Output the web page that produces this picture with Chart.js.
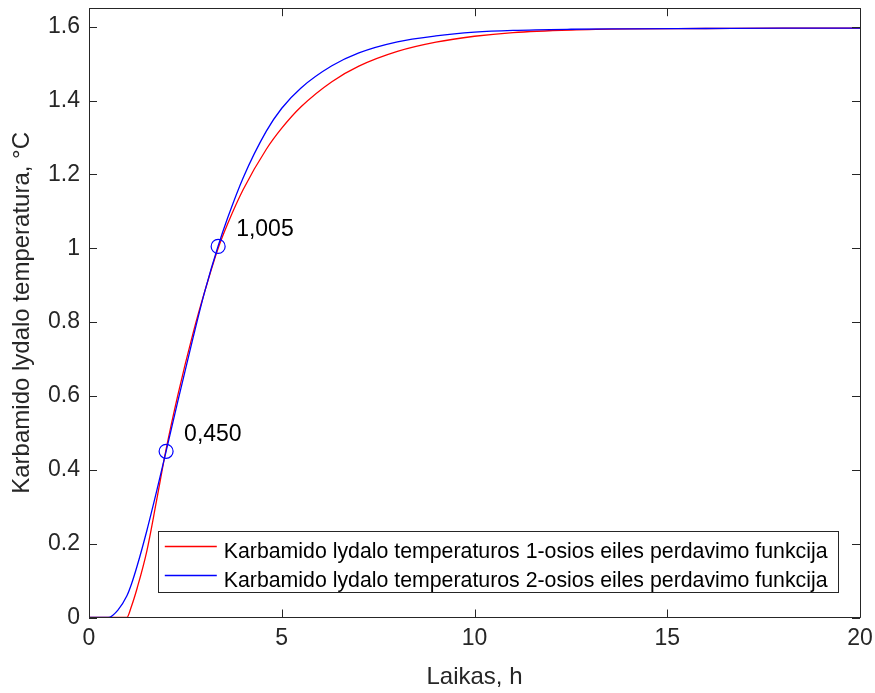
<!DOCTYPE html>
<html>
<head>
<meta charset="utf-8">
<script src="https://cdn.jsdelivr.net/npm/chart.js@4.4.1/dist/chart.umd.min.js"></script>
<style>
  html, body { margin: 0; padding: 0; background: #fff; }
  #wrap { width: 875px; height: 693px; }
</style>
</head>
<body>
<div id="wrap"><canvas id="chart" width="875" height="693"></canvas></div>
<script>
// time, h
const timeH = [0, 0.5, 0.75, 0.98, 1.1, 1.25, 1.5, 1.75, 2.0, 2.3, 2.7, 3.0, 3.35, 3.6, 4.0, 4.6, 5.0, 5.5, 6.3, 7.0, 8.0, 9.0, 10, 11, 12.5, 14, 16, 18, 20];
// 1st order transfer function response
const firstOrder = [0, 0, 0, 0, 0.03, 0.08, 0.18, 0.315, 0.455, 0.600, 0.770, 0.882, 1.0, 1.067, 1.159, 1.268, 1.325, 1.383, 1.451, 1.493, 1.533, 1.558, 1.574, 1.584, 1.591, 1.594, 1.595, 1.596, 1.596];
// 2nd order transfer function response
const secondOrder = [0, 0, 0.02, 0.058, 0.09, 0.14, 0.235, 0.34, 0.45, 0.584, 0.758, 0.882, 1.006, 1.083, 1.191, 1.317, 1.379, 1.434, 1.494, 1.529, 1.559, 1.575, 1.585, 1.590, 1.593, 1.594, 1.595, 1.596, 1.596];

const markerTime = [2.0, 3.35];
const markerValue = [0.45, 1.005];
const markerText = ['0,450', '1,005'];

const xTicks = [0, 5, 10, 15, 20];
const yTicks = [0, 0.2, 0.4, 0.6, 0.8, 1.0, 1.2, 1.4, 1.6];
const yTickLabels = ['0', '0.2', '0.4', '0.6', '0.8', '1', '1.2', '1.4', '1.6'];

const legendLabels = [
    'Karbamido lydalo temperaturos 1-osios eiles perdavimo funkcija',
    'Karbamido lydalo temperaturos 2-osios eiles perdavimo funkcija'
];

const AXIS = '#262626';
const FONT = '"Liberation Sans", Arial, Helvetica, sans-serif';

const toPoints = (xs, ys) => xs.map((x, i) => ({ x, y: ys[i] }));

// MATLAB-like box: border, inward ticks on all sides, text labels, legend
const matlabBox = {
    id: 'matlabBox',
    afterDraw(chart) {
        const { ctx, chartArea: a, scales: { x, y } } = chart;
        ctx.save();
        ctx.strokeStyle = AXIS;
        ctx.lineWidth = 1;
        ctx.beginPath();
        ctx.rect(Math.round(a.left) + 0.5, Math.round(a.top) + 0.5, Math.round(a.right - a.left), Math.round(a.bottom - a.top));
        x.ticks.forEach(t => {
            const px = Math.round(x.getPixelForValue(t.value)) + 0.5;
            ctx.moveTo(px, a.bottom); ctx.lineTo(px, a.bottom - 8);
            ctx.moveTo(px, a.top); ctx.lineTo(px, a.top + 8);
        });
        y.ticks.forEach(t => {
            const py = Math.round(y.getPixelForValue(t.value)) + 0.5;
            ctx.moveTo(a.left, py); ctx.lineTo(a.left + 8, py);
            ctx.moveTo(a.right, py); ctx.lineTo(a.right - 8, py);
        });
        ctx.stroke();

        // point labels
        ctx.fillStyle = '#000';
        ctx.font = '23px ' + FONT;
        ctx.textBaseline = 'middle';
        ctx.textAlign = 'left';
        markerText.forEach((s, i) => {
            const px = x.getPixelForValue(markerTime[i]);
            const py = y.getPixelForValue(markerValue[i]);
            ctx.fillText(s, px + 18, py - 17);
        });

        // legend
        ctx.font = '21.3px ' + FONT;
        const tw = Math.max(...legendLabels.map(s => ctx.measureText(s).width));
        const right = a.right - 22.5, bottom = a.bottom - 25.5;
        const w = tw + 76, h = 61;
        const left = right - w, top = bottom - h;
        ctx.fillStyle = '#fff';
        ctx.fillRect(left, top, w, h);
        ctx.strokeStyle = AXIS;
        ctx.strokeRect(Math.round(left) + 0.5, Math.round(top) + 0.5, Math.round(w), Math.round(h));
        const colors = chart.data.datasets.map(d => d.borderColor);
        legendLabels.forEach((s, i) => {
            const ly = top + 15.5 + i * 29;
            ctx.strokeStyle = colors[i];
            ctx.lineWidth = 1.3;
            ctx.beginPath();
            ctx.moveTo(left + 7, ly); ctx.lineTo(left + 59, ly);
            ctx.stroke();
            ctx.fillStyle = '#000';
            ctx.textBaseline = 'alphabetic';
            ctx.fillText(s, left + 66, ly + 11);
        });
        ctx.restore();
    }
};

new Chart(document.getElementById('chart'), {
    type: 'scatter',
    data: {
        datasets: [
            {
                data: toPoints(timeH, firstOrder),
                showLine: true,
                borderColor: '#ff0000',
                borderWidth: 1.3,
                pointRadius: 0,
                cubicInterpolationMode: 'monotone',
                order: 2
            },
            {
                data: toPoints(timeH, secondOrder),
                showLine: true,
                borderColor: '#0000ff',
                borderWidth: 1.3,
                pointRadius: 0,
                cubicInterpolationMode: 'monotone',
                order: 1
            },
            {
                data: toPoints(markerTime, markerValue),
                showLine: false,
                borderColor: '#0000ff',
                backgroundColor: 'rgba(0,0,0,0)',
                borderWidth: 1.2,
                pointRadius: 7,
                pointStyle: 'circle',
                order: 0
            }
        ]
    },
    options: {
        responsive: false,
        animation: false,
        devicePixelRatio: 1,
        layout: { padding: { top: 8, right: 15, left: 0, bottom: 0 } },
        plugins: { legend: { display: false }, tooltip: { enabled: false } },
        scales: {
            x: {
                type: 'linear',
                min: 0, max: 20,
                afterBuildTicks: s => { s.ticks = xTicks.map(v => ({ value: v })); },
                afterFit: s => { s.height = 75.5; s.paddingLeft = 0; s.paddingRight = 0; },
                grid: { display: false, drawTicks: false },
                border: { display: false },
                ticks: { color: AXIS, font: { family: FONT, size: 23 }, padding: 7, maxRotation: 0 },
                title: { display: true, text: 'Laikas, h', color: AXIS, font: { family: FONT, size: 24 }, padding: { top: 0, bottom: 1 } }
            },
            y: {
                type: 'linear',
                min: 0, max: 1.65,
                afterBuildTicks: s => { s.ticks = yTicks.map(v => ({ value: v })); },
                afterFit: s => { s.width = 89; s.paddingTop = 0; s.paddingBottom = 0; },
                grid: { display: false, drawTicks: false },
                border: { display: false },
                ticks: {
                    color: AXIS, font: { family: FONT, size: 23 }, padding: 9,
                    callback: v => yTickLabels[yTicks.indexOf(v)] ?? ''
                },
                title: { display: true, text: 'Karbamido lydalo temperatura, °C', color: AXIS, font: { family: FONT, size: 24 }, padding: { top: 8, bottom: 0 } }
            }
        }
    },
    plugins: [matlabBox]
});
</script>
</body>
</html>
